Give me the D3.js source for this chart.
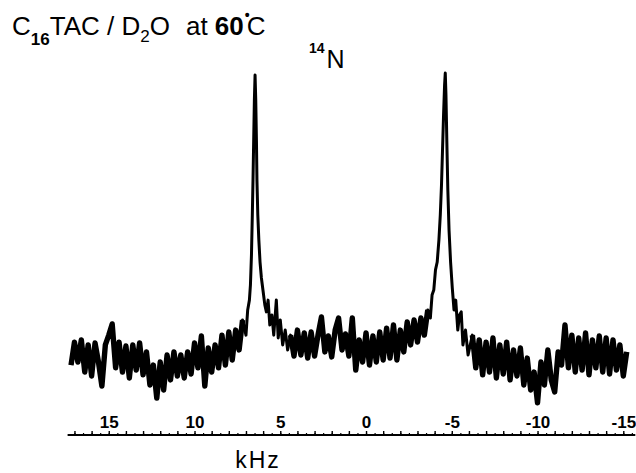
<!DOCTYPE html>
<html>
<head>
<meta charset="utf-8">
<script src="https://d3js.org/d3.v7.min.js"></script>
<style>
	body { margin: 0; background: #fff; }
	svg { display: block; }
	text { font-family: "Liberation Sans", Arial, sans-serif; fill: #000; }
</style>
</head>
<body>
<svg id="viz"></svg>
<script>
// window sizing
var width = 636,
	height = 473;

// spectrum: [frequency in kHz, intensity in arbitrary units]
var leftBaseline = [
	[17.2,-3.6],[17.0,4.6],[16.8,-2.5],[16.6,5.4],[16.4,-6.1],[16.2,3.6],[16.0,-7.5],[15.8,4.3],
	[15.6,-2.5],[15.4,-11.1],[15.2,3.6],[15.0,7.1],[14.8,11.1],[14.6,-4.6],[14.4,4.6],[14.2,-6.1],
	[14.0,3.2],[13.8,-8.2],[13.6,3.6],[13.4,-5.4],[13.2,4.3],[13.0,-7.1],[12.8,1.1],[12.6,-10.7],
	[12.4,-3.6],[12.2,-15.4],[12.0,-2.5],[11.8,-12.5],[11.6,0],[11.4,-8.9],[11.2,1.1],[11.0,-7.5],
	[10.8,0],[10.6,-8.2],[10.4,1.1],[10.2,-6.8],[10.0,4.3],[9.8,-4.6],[9.6,6.8],[9.4,-11.1],
	[9.2,2.5],[9.0,-6.1],[8.8,3.6],[8.6,-4.6],[8.4,7.1],[8.2,-3.6],[8.0,8.2],[7.8,-1.8],
	[7.6,8.9],[7.4,1.8],[7.2,12.5]
];
var leftPeak = [
	[7.0,7.1],[6.9,16.1],[6.8,19.6],[6.74,25],[6.68,35.7],[6.63,50],[6.59,62.5],[6.55,76.8],
	[6.51,91.1],[6.47,100],[6.43,91.1],[6.39,76.8],[6.36,62.5],[6.31,50],[6.25,41.1],[6.18,33.2],
	[6.10,27.5],[6.01,23.2],[5.90,17.9],[5.81,15.4],[5.71,19.6],[5.61,10.7],[5.49,14.3],[5.38,7.1],
	[5.23,19.6],[5.12,6.1],[5.0,12.5],[4.86,3.6],[4.71,8.9],[4.57,1.8]
];
var middle = [
	[4.4,7.1],[4.2,-0.4],[4.0,8.9],[3.8,0],[3.6,7.9],[3.4,-1.1],[3.2,8.2],[3.0,-0.4],
	[2.8,7.1],[2.6,13.6],[2.4,1.1],[2.2,6.8],[2.0,-0.7],[1.8,8.9],[1.6,13.2],[1.4,1.8],
	[1.2,7.5],[1.0,-0.4],[0.8,13.2],[0.6,-5.4],[0.4,5.4],[0.2,-2.5],[0.0,7.9],[-0.2,-3.6],
	[-0.4,6.8],[-0.6,-2.5],[-0.8,8.2],[-1.0,-1.8],[-1.2,9.6],[-1.4,-1.1],[-1.6,10.7],[-1.8,-1.8],
	[-2.0,8.9],[-2.2,1.1],[-2.4,11.8],[-2.6,3.6],[-2.8,12.5],[-3.0,4.6],[-3.2,13.2],[-3.4,7.1],
	[-3.6,16.1]
];
var rightPeak = [
	[-3.75,13.2],[-3.85,21.4],[-3.95,23.2],[-4.05,30.4],[-4.15,33.2],[-4.25,41.1],[-4.33,50],
	[-4.40,60.7],[-4.46,73.2],[-4.52,85.7],[-4.58,96.4],[-4.62,100.7],[-4.66,92.9],[-4.71,76.8],
	[-4.77,58.9],[-4.84,44.6],[-4.93,33.2],[-5.03,23.9],[-5.13,16.1],[-5.23,19.6],[-5.35,8.9],
	[-5.45,14.3],[-5.55,15.4],[-5.65,3.6],[-5.8,8.9],[-5.95,0]
];
var rightBaseline = [
	[-6.2,7.1],[-6.4,-4.6],[-6.6,5.4],[-6.8,-7.1],[-7.0,4.6],[-7.2,-6.1],[-7.4,6.1],[-7.6,-8.2],
	[-7.8,3.6],[-8.0,-6.8],[-8.2,4.6],[-8.4,-8.9],[-8.6,1.8],[-8.8,-7.5],[-9.0,2.5],[-9.2,-10.7],
	[-9.4,-1.1],[-9.6,-12.5],[-9.8,-6.1],[-10.0,-17.1],[-10.2,-2.5],[-10.4,-10.7],[-10.6,1.8],[-10.8,-8.9],
	[-11.0,-13.2],[-11.2,1.1],[-11.4,-3.6],[-11.6,10.7],[-11.8,-4.6],[-12.0,7.1],[-12.2,-6.1],[-12.4,6.1],
	[-12.6,-5.4],[-12.8,7.9],[-13.0,-7.1],[-13.2,5.4],[-13.4,-4.6],[-13.6,6.8],[-13.8,-6.1],[-14.0,6.1],
	[-14.2,-6.8],[-14.4,5.4],[-14.6,-5.4],[-14.8,3.6],[-15.0,-7.5],[-15.2,1.1]
];

// tick labels on the frequency axis
var majorTicks = [15, 10, 5, 0, -5, -10, -15];

// whole trace, high frequency on the left
var spectrum = leftBaseline.concat(leftPeak, middle, rightPeak, rightBaseline);

var svg = d3.select("#viz").attr("width", width).attr("height", height);

// scales: kHz runs right to left like an NMR spectrum
var x = d3.scaleLinear().domain([17.4, -15.7]).range([67.6, 635.3]);
var y = d3.scaleLinear().domain([-20, 100]).range([411, 75]);

var axisY = 435;

// minor ticks every half kHz
svg.append("g")
	.attr("transform", "translate(0," + axisY + ")")
	.call(d3.axisTop(x).tickValues(d3.range(-15.5, 17.5, 0.5)).tickSize(2).tickFormat(""))
	.call(function(g) { g.select(".domain").remove(); })
	.selectAll("line").attr("stroke-width", 1.2);

// main axis with labels above the line
var axis = svg.append("g")
	.attr("transform", "translate(0," + axisY + ")")
	.call(d3.axisTop(x).tickValues(d3.range(-15, 18, 1)).tickSize(4).tickPadding(3)
		.tickFormat(function(d) { return majorTicks.indexOf(d) >= 0 ? d3.format("d")(d).replace("−", "-") : ""; }))
	.call(function(g) { g.select(".domain").attr("stroke-width", 2).attr("d", "M" + x.range()[0] + ",0H" + x.range()[1]); });

axis.selectAll("line").attr("stroke-width", 1.4);
axis.selectAll("text")
	.style("font-family", "'Liberation Sans', Arial, sans-serif")
	.style("font-size", "17px")
	.style("font-weight", 700)
	.attr("fill", "#000");

// axis title
svg.append("text")
	.attr("x", 258)
	.attr("y", 468)
	.attr("text-anchor", "middle")
	.style("font-size", "23px")
	.style("letter-spacing", "2px")
	.text("kHz");

// spectrum trace
var line = d3.line()
	.x(function(d) { return x(d[0]); })
	.y(function(d) { return y(d[1]); });

svg.append("path")
	.datum(spectrum)
	.attr("d", line)
	.attr("fill", "none")
	.attr("stroke", "#000")
	.attr("stroke-width", 3)
	.attr("stroke-linejoin", "round");

// noisy stretches look heavier in the print
[leftBaseline, middle, rightBaseline].forEach(function(seg) {
	svg.append("path")
		.datum(seg)
		.attr("d", line)
		.attr("fill", "none")
		.attr("stroke", "#000")
		.attr("stroke-width", 5.4)
		.attr("stroke-linejoin", "round");
});

// sample label
var title = svg.append("text")
	.attr("x", 12)
	.attr("y", 35)
	.style("font-size", "26px");
title.append("tspan").text("C");
title.append("tspan").attr("dy", 10).style("font-size", "17px").style("font-weight", 700).text("16");
title.append("tspan").attr("dy", -10).text("TAC / D");
title.append("tspan").attr("dy", 7).style("font-size", "17px").text("2");
title.append("tspan").attr("dy", -7).text("O");
title.append("tspan").attr("dx", 16).text("at ");
title.append("tspan").style("font-weight", 700).text("60");
title.append("tspan").attr("dy", -15).attr("dx", 1).style("font-size", "14px").style("font-weight", 700).text("\u2022");
title.append("tspan").attr("dy", 15).attr("dx", -3).text("C");

// nucleus label
var nucleus = svg.append("text")
	.attr("x", 309)
	.attr("y", 68)
	.style("font-size", "25px");
nucleus.append("tspan").attr("dy", -15).style("font-size", "14px").style("font-weight", 700).text("14");
nucleus.append("tspan").attr("dy", 15).attr("dx", 2).text("N");
</script>
</body>
</html>
